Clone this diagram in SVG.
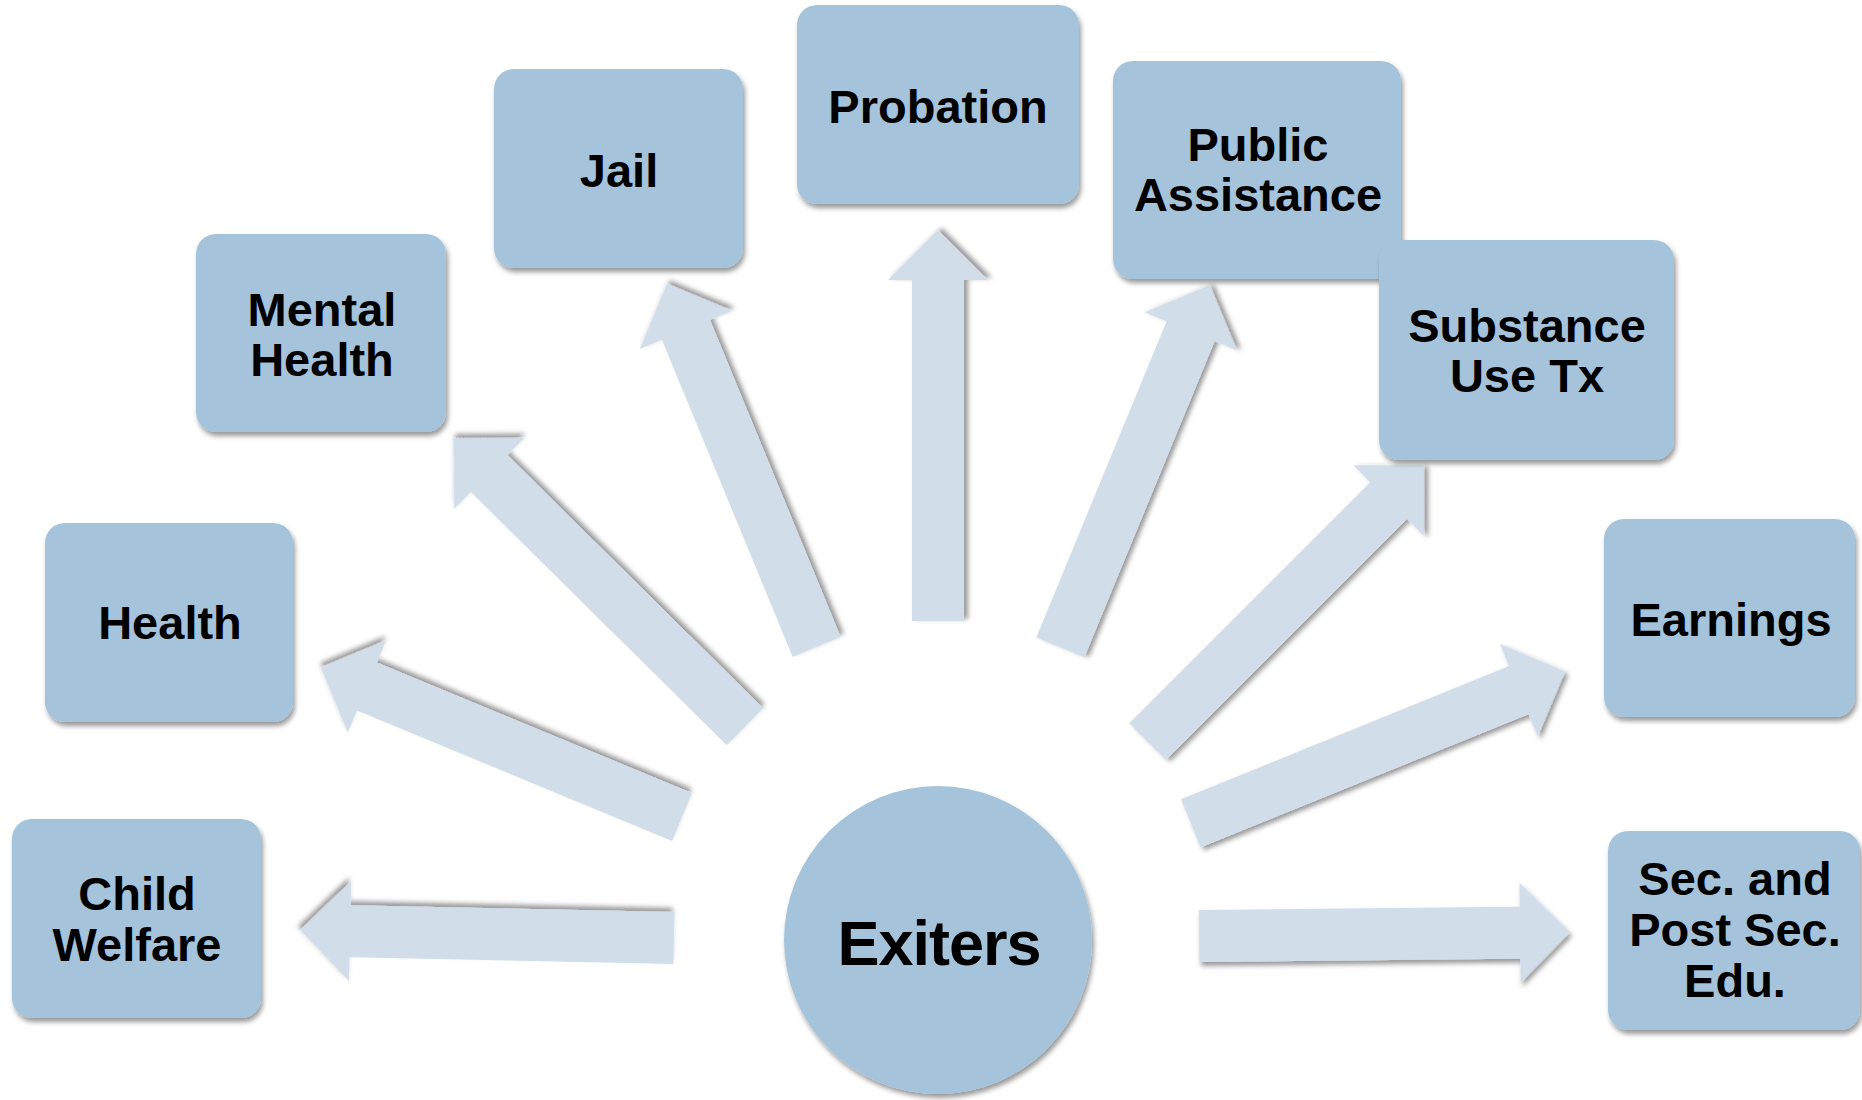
<svg xmlns="http://www.w3.org/2000/svg" width="1862" height="1100" viewBox="0 0 1862 1100">
  <defs>
    <filter id="sh" x="-20%" y="-20%" width="140%" height="140%">
      <feDropShadow dx="2" dy="4" stdDeviation="2.5" flood-color="#000" flood-opacity="0.4"/>
    </filter>
    <style>
      .box { fill: #A5C3DB; filter: url(#sh); }
      .arr { fill: #D1DEEA; filter: url(#sh); }
      .lbl { font-family: "Liberation Sans", Arial, sans-serif; font-weight: bold; font-size: 47px; fill: #000; text-anchor: middle; }
      .big { font-family: "Liberation Sans", Arial, sans-serif; font-weight: bold; font-size: 63px; fill: #000; text-anchor: middle; letter-spacing: -1px; }
    </style>
  </defs>
  <rect width="1862" height="1100" fill="#fff"/>

  <g id="connectors">
    <path class="arr" transform="translate(674,938) rotate(181.2)" d="M0,-26 H324 V-50 L374,0 L324,50 V26 H0 Z"/>
    <path class="arr" transform="translate(1199,936) rotate(-0.6)" d="M0,-26 H321 V-50 L371,0 L321,50 V26 H0 Z"/>
    <path class="arr" transform="translate(682,817) rotate(-157.5)" d="M0,-26 H341 V-50 L391,0 L341,50 V26 H0 Z"/>
    <path class="arr" transform="translate(745,726.7) rotate(-135.3)" d="M0,-26 H360 V-50 L410,0 L360,50 V26 H0 Z"/>
    <path class="arr" transform="translate(816.7,647) rotate(-112.4)" d="M0,-26 H343 V-50 L393,0 L343,50 V26 H0 Z"/>
    <path class="arr" transform="translate(938,621) rotate(-90)" d="M0,-26 H341 V-50 L391,0 L341,50 V26 H0 Z"/>
    <path class="arr" transform="translate(1060.3,647.5) rotate(-67.6)" d="M0,-26 H342 V-50 L392,0 L342,50 V26 H0 Z"/>
    <path class="arr" transform="translate(1147.5,741.7) rotate(-45)" d="M0,-26 H341 V-50 L391,0 L341,50 V26 H0 Z"/>
    <path class="arr" transform="translate(1190.8,823.3) rotate(-22.1)" d="M0,-26 H354 V-50 L404,0 L354,50 V26 H0 Z"/>
  </g>

  <g id="exiters">
    <circle class="box" cx="938" cy="940" r="154"/>
    <text class="big" x="939" y="965">Exiters</text>
  </g>

  <g id="child-welfare">
    <rect class="box" x="12" y="819" width="249" height="199" rx="20"/>
    <text class="lbl" x="137" y="910">Child</text>
    <text class="lbl" x="137" y="961">Welfare</text>
  </g>

  <g id="health">
    <rect class="box" x="45" y="523" width="248" height="199" rx="20"/>
    <text class="lbl" x="170" y="639">Health</text>
  </g>

  <g id="mental-health">
    <rect class="box" x="196" y="234" width="250" height="198" rx="20"/>
    <text class="lbl" x="322" y="326">Mental</text>
    <text class="lbl" x="322" y="376">Health</text>
  </g>

  <g id="jail">
    <rect class="box" x="494" y="69" width="249" height="199" rx="20"/>
    <text class="lbl" x="619" y="187">Jail</text>
  </g>

  <g id="probation">
    <rect class="box" x="797" y="5" width="282" height="199" rx="20"/>
    <text class="lbl" x="938" y="123">Probation</text>
  </g>

  <g id="public-assistance">
    <rect class="box" x="1113" y="61" width="288" height="218" rx="20"/>
    <text class="lbl" x="1258" y="161">Public</text>
    <text class="lbl" x="1258" y="211">Assistance</text>
  </g>

  <g id="substance-use">
    <rect class="box" x="1379" y="240" width="295" height="220" rx="20"/>
    <text class="lbl" x="1527" y="342">Substance</text>
    <text class="lbl" x="1527" y="392">Use Tx</text>
  </g>

  <g id="earnings">
    <rect class="box" x="1604" y="519" width="251" height="198" rx="20"/>
    <text class="lbl" x="1731" y="636">Earnings</text>
  </g>

  <g id="education">
    <rect class="box" x="1608" y="831" width="252" height="199" rx="20"/>
    <text class="lbl" x="1735" y="895">Sec. and</text>
    <text class="lbl" x="1735" y="946">Post Sec.</text>
    <text class="lbl" x="1735" y="997">Edu.</text>
  </g>
</svg>
